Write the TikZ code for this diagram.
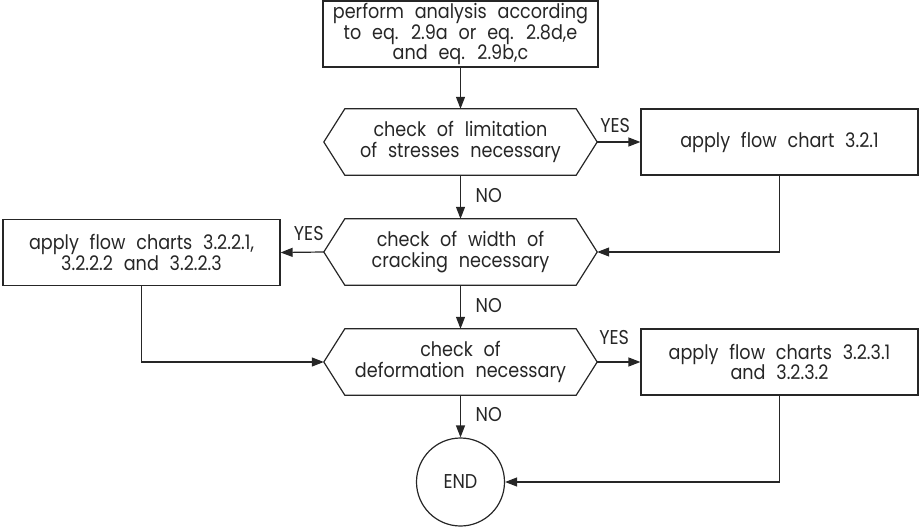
\documentclass[tikz,border=0pt]{standalone}
\usepackage{fontspec}
\setmainfont{Poppins}[FakeStretch=0.88, WordSpace=2.3]
\usetikzlibrary{arrows.meta}
\begin{document}
\begin{tikzpicture}[x=1pt,y=-1pt,
  every node/.style={font=\fontsize{20}{20.5}\selectfont, text=black!85},
  stroke/.style={line width=1.2pt, draw=black!85},
  box/.style={stroke, draw, minimum width=277pt, minimum height=66pt, inner sep=0pt, align=center},
  decision/.style={minimum width=273pt, minimum height=66pt, inner sep=0pt, align=center},
  terminal/.style={stroke, draw, circle, minimum size=88pt, inner sep=0pt},
  flow/.style={stroke, -{Triangle[length=12pt,width=9pt]}},
  tag/.style={inner sep=0pt}
]
\useasboundingbox (0,0) rectangle (920,529);

% process boxes
\node[box, minimum width=275pt] (start) at (460.5,34)
  {perform analysis according\\to eq. 2.9a or eq. 2.8d,e\\and eq. 2.9b,c};
\node[box] (b1) at (779.5,142) {apply flow chart 3.2.1};
\node[box] (b2) at (141.5,252.5) {apply flow charts 3.2.2.1,\\3.2.2.2 and 3.2.2.3};
\node[box] (b3) at (779.5,362) {apply flow charts 3.2.3.1\\and 3.2.3.2};

% decisions (text area; outline drawn below)
\node[decision] (c1) at (460.5,142) {check of limitation\\of stresses necessary};
\node[decision] (c2) at (460.5,252) {check of width of\\cracking necessary};
\node[decision] (c3) at (460.5,362) {check of\\deformation necessary};

\foreach \n in {c1,c2,c3}
  \draw[stroke] (\n.west) -- ([xshift=21pt]\n.north west) -- ([xshift=-21pt]\n.north east)
    -- (\n.east) -- ([xshift=-21pt]\n.south east) -- ([xshift=21pt]\n.south west) -- cycle;

\node[terminal] (end) at (460.5,482) {END};

% connectors
\draw[flow] (start.south) -- (c1.north);
\draw[flow] (c1.south) -- (c2.north);
\draw[flow] (c2.south) -- (c3.north);
\draw[flow] (c3.south) -- (end.north);
\draw[flow] (c1.east) -- (b1.west);
\draw[flow] (c2.west) -- (b2.east);
\draw[flow] (c3.east) -- (b3.west);
\draw[flow] (b1.south) |- (c2.east);
\draw[flow] (b2.south) |- (c3.west);
\draw[flow] (b3.south) |- (end.east);

% branch labels
\node[tag, anchor=south west] (y1) at ([xshift=3pt,yshift=9pt]c1.east) {YES};
\node[tag, anchor=south east] (y2) at ([yshift=11pt]c2.west) {YES};
\node[tag, anchor=south west] (y3) at ([xshift=2pt,yshift=17pt]c3.east) {YES};
\node[tag, anchor=north west] (n1) at ([xshift=15pt,yshift=-13pt]c1.south) {NO};
\node[tag, anchor=north west] (n2) at ([xshift=15pt,yshift=-13pt]c2.south) {NO};
\node[tag, anchor=north west] (n3) at ([xshift=15pt,yshift=-12pt]c3.south) {NO};
\end{tikzpicture}
\end{document}
